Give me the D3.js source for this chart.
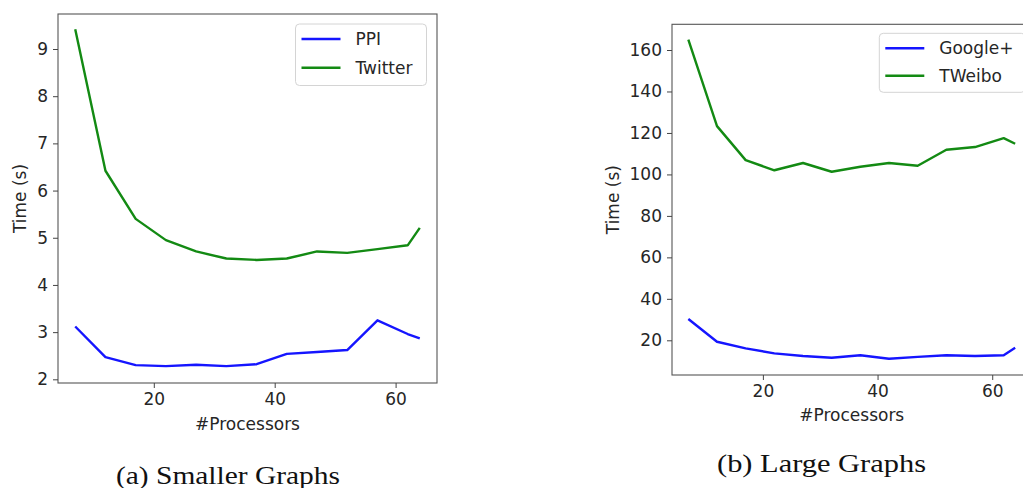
<!DOCTYPE html>
<html>
<head>
<meta charset="utf-8">
<script src="https://cdn.jsdelivr.net/npm/d3@7"></script>
<style>
  html, body { margin: 0; padding: 0; background: #fff; }
  svg { display: block; }
  .tick text { font-family: "DejaVu Sans", sans-serif; font-size: 17px; fill: #262626; }
  .lbl { font-family: "DejaVu Sans", sans-serif; font-size: 17px; fill: #262626; }
  .cap { font-family: "Liberation Serif", "Times New Roman", serif; font-size: 25px; fill: #111; }
</style>
</head>
<body>
<svg id="fig" width="1023" height="488"></svg>
<script>
// Processor counts shared by both panels
const processors = [7, 12, 17, 22, 27, 32, 37, 42, 47, 52, 57, 62, 64];

// (a) smaller graphs, runtime in seconds
const ppiTime     = [3.12, 2.47, 2.30, 2.28, 2.31, 2.28, 2.32, 2.54, 2.58, 2.62, 3.25, 2.96, 2.87];
const twitterTime = [9.42, 6.42, 5.40, 4.95, 4.71, 4.56, 4.53, 4.56, 4.71, 4.68, 4.76, 4.84, 5.21];

// (b) large graphs, runtime in seconds
const googleTime  = [30.3, 19.3, 16.1, 13.7, 12.4, 11.6, 12.8, 11.1, 12.0, 12.8, 12.4, 12.8, 16.4];
const tweiboTime  = [165.0, 123.3, 106.9, 102.0, 105.5, 101.3, 103.7, 105.5, 104.2, 111.9, 113.2, 117.5, 114.8];

// Tick labels
const xTicks  = [20, 40, 60];
const yTicksA = [2, 3, 4, 5, 6, 7, 8, 9];
const yTicksB = [20, 40, 60, 80, 100, 120, 140, 160];

const captions = ["(a) Smaller Graphs", "(b) Large Graphs"];

const svg = d3.select("#fig");

function drawPanel(p) {
  const x = d3.scaleLinear().domain(p.xDomain).range([p.left, p.right]);
  const y = d3.scaleLinear().domain(p.yDomain).range([p.bottom, p.top]);
  const g = svg.append("g");

  // series lines
  const line = d3.line().x(d => x(d[0])).y(d => y(d[1]));
  p.series.forEach(s => {
    g.append("path")
      .datum(processors.map((v, i) => [v, s.values[i]]))
      .attr("d", line)
      .attr("fill", "none")
      .attr("stroke", s.color)
      .attr("stroke-width", 2.4)
      .attr("stroke-linejoin", "round");
  });

  // frame
  g.append("rect")
    .attr("x", p.left).attr("y", p.top)
    .attr("width", p.right - p.left).attr("height", p.bottom - p.top)
    .attr("fill", "none").attr("stroke", "#555").attr("stroke-width", 1.1);

  // axes
  const xa = g.append("g").attr("transform", `translate(0,${p.bottom})`)
    .call(d3.axisBottom(x).tickValues(xTicks).tickSize(5).tickPadding(5));
  const ya = g.append("g").attr("transform", `translate(${p.left},0)`)
    .call(d3.axisLeft(y).tickValues(p.yTicks).tickSize(5).tickPadding(5));
  [xa, ya].forEach(a => {
    a.select(".domain").remove();
    a.selectAll(".tick line").attr("stroke", "#444").attr("stroke-width", 1);
  });

  // axis titles
  g.append("text").attr("class", "lbl")
    .attr("x", (p.left + p.right) / 2).attr("y", p.xLabelY)
    .attr("text-anchor", "middle").text("#Processors");
  g.append("text").attr("class", "lbl")
    .attr("transform", `translate(${p.yLabelX},${(p.top + p.bottom) / 2}) rotate(-90)`)
    .attr("text-anchor", "middle").attr("dy", "0.35em").text("Time (s)");

  // legend
  const L = p.legend;
  g.append("rect")
    .attr("x", L.x).attr("y", L.y).attr("width", L.w).attr("height", L.h)
    .attr("rx", 4).attr("fill", "#fff").attr("fill-opacity", 0.8)
    .attr("stroke", "#d4d4d4").attr("stroke-width", 1);
  p.series.forEach((s, i) => {
    const ly = L.y + L.firstRow + i * L.rowGap;
    g.append("line")
      .attr("x1", L.x + 6).attr("x2", L.x + 45)
      .attr("y1", ly).attr("y2", ly)
      .attr("stroke", s.color).attr("stroke-width", 2.4);
    g.append("text").attr("class", "lbl")
      .attr("x", L.x + 60).attr("y", ly).attr("dy", "0.36em")
      .text(s.name);
  });

  // caption
  svg.append("text").attr("class", "cap")
    .attr("x", p.caption.x).attr("y", p.caption.y)
    .attr("textLength", p.caption.w).attr("lengthAdjust", "spacingAndGlyphs")
    .text(p.caption.text);
}

drawPanel({
  left: 58, right: 437, top: 14, bottom: 383,
  xDomain: [4.15, 66.85], yDomain: [1.922, 9.742], yTicks: yTicksA,
  xLabelY: 430, yLabelX: 20,
  series: [
    { name: "PPI", values: ppiTime, color: "#1515ff" },
    { name: "Twitter", values: twitterTime, color: "#138a13" }
  ],
  legend: { x: 295.5, y: 24, w: 131, h: 61.5, firstRow: 15, rowGap: 28.7 },
  caption: { text: captions[0], x: 116, y: 484, w: 224 }
});

drawPanel({
  left: 672, right: 1031.5, top: 24.3, bottom: 375,
  xDomain: [4.15, 66.85], yDomain: [3.27, 172.4], yTicks: yTicksB,
  xLabelY: 421, yLabelX: 613,
  series: [
    { name: "Google+", values: googleTime, color: "#1515ff" },
    { name: "TWeibo", values: tweiboTime, color: "#138a13" }
  ],
  legend: { x: 879.3, y: 33.3, w: 146, h: 59, firstRow: 15, rowGap: 27.4 },
  caption: { text: captions[1], x: 717, y: 472, w: 209 }
});
</script>
</body>
</html>
